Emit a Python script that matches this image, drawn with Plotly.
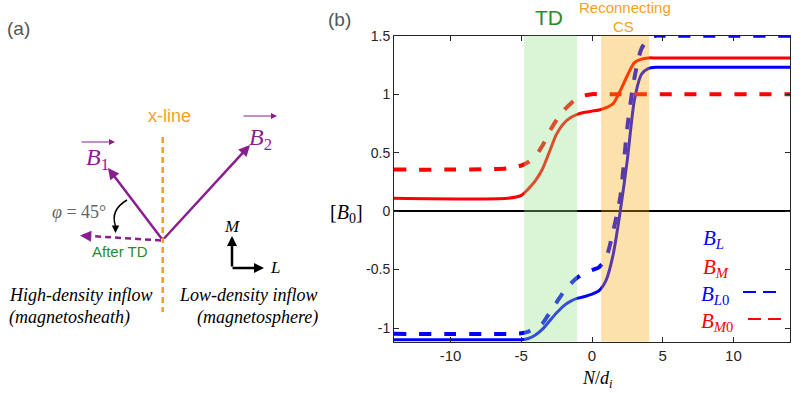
import plotly.graph_objects as go

# ---------------- data ----------------
N = [-14, -6, -5, -4.5, -4, -3.5, -3, -2.5, -2, -1.5, -1, -0.5, 0, 0.5,
     1, 1.5, 2, 2.5, 3, 3.5, 4, 4.5, 5, 6, 14]
BL = [-1.10, -1.10, -1.10, -1.09, -1.06, -1.01, -0.94, -0.87, -0.81, -0.77,
      -0.745, -0.73, -0.71, -0.68, -0.59, -0.37, 0.0, 0.44, 0.95, 1.17,
      1.22, 1.23, 1.23, 1.23, 1.23]
BM = [0.11, 0.11, 0.135, 0.19, 0.26, 0.36, 0.51, 0.66, 0.75, 0.80,
      0.83, 0.845, 0.855, 0.865, 0.885, 0.92, 1.03, 1.16, 1.27, 1.30,
      1.31, 1.31, 1.31, 1.31, 1.31]
BL0 = [-1.05, -1.05, -1.045, -1.03, -1.0, -0.96, -0.87, -0.78, -0.69, -0.62,
       -0.565, -0.53, -0.505, -0.48, -0.40, -0.17, 0.12, 0.72, 1.14, 1.39,
       1.47, 1.5, 1.5, 1.5, 1.5]
BM0 = [0.355, 0.365, 0.39, 0.42, 0.47, 0.56, 0.68, 0.78, 0.86, 0.92,
       0.97, 0.99, 1.0, 1.0, 1.0, 1.0, 1.0, 1.0, 1.0, 1.0,
       1.0, 1.0, 1.0, 1.0, 1.0]
TD_band = [-4.8, -1.05]
CS_band = [0.65, 4.05]
x_ticks = [-10, -5, 0, 5, 10]
y_ticks = [-1, -0.5, 0, 0.5, 1, 1.5]
y_ticktext = ["-1", "-0.5", "0", "0.5", "1", "1.5"]
x_ticktext = ["-10", "-5", "0", "5", "10"]

BLUE = "#0000ff"
RED = "#ff0000"
PURPLE = "#8b1e8f"
ORANGE = "#f7a01e"
GREEN_T = "#2a8a2a"
SANS = "Liberation Sans, Arial, sans-serif"
SERIF = "Liberation Serif, Times New Roman, serif"
W, H = 804, 393

fig = go.Figure()

fig.add_trace(go.Scatter(x=N, y=BL, mode="lines", line=dict(color=BLUE, width=3, shape="spline", smoothing=0.7)))
fig.add_trace(go.Scatter(x=N, y=BM, mode="lines", line=dict(color=RED, width=3, shape="spline", smoothing=0.7)))
fig.add_trace(go.Scatter(x=N, y=BL0, mode="lines", line=dict(color=BLUE, width=4, dash="12px,13px", shape="spline", smoothing=0.7)))
fig.add_trace(go.Scatter(x=N, y=BM0, mode="lines", line=dict(color=RED, width=4, dash="12px,13px", shape="spline", smoothing=0.7)))
# helper axis for the sketch panel (pixel-like coordinates)
fig.add_trace(go.Scatter(x=[], y=[], xaxis="x2", yaxis="y2"))

shapes = []
# shaded bands (drawn above lines with transparency, tinting them)
shapes.append(dict(type="rect", xref="x", yref="y domain", x0=TD_band[0], x1=TD_band[1], y0=0, y1=1,
                   fillcolor="rgb(147,226,138)", opacity=0.35, line=dict(width=0), layer="above"))
shapes.append(dict(type="rect", xref="x", yref="y domain", x0=CS_band[0], x1=CS_band[1], y0=0, y1=1,
                   fillcolor="rgb(249,169,12)", opacity=0.35, line=dict(width=0), layer="above"))

# legend dash samples (paper coords from pixels)
def px(x):
    return x / W
def py(y):
    return 1 - y / H

shapes.append(dict(type="line", xref="paper", yref="paper", x0=px(743), x1=px(777), y0=py(292), y1=py(292),
                   line=dict(color=BLUE, width=2, dash="13px,7px")))
shapes.append(dict(type="line", xref="paper", yref="paper", x0=px(748), x1=px(782), y0=py(319), y1=py(319),
                   line=dict(color=RED, width=2, dash="13px,7px")))

# ---- sketch panel (a), coordinates in x2/y2 (pixels) ----
shapes.append(dict(type="line", xref="x2", yref="y2", x0=162.7, x1=162.7, y0=137, y1=312,
                   line=dict(color=ORANGE, width=2.5, dash="6px,4px")))
shapes.append(dict(type="line", xref="x2", yref="y2", x0=161, y0=240.5, x1=90, y1=236,
                   line=dict(color=PURPLE, width=2.5, dash="6px,4px")))
shapes.append(dict(type="path", xref="x2", yref="y2", path="M 127,200 Q 110,210 115.5,226",
                   line=dict(color="black", width=1.5)))

annotations = []

def arrow(x0, y0, x1, y1, color, width, size=1.0, head=2):
    annotations.append(dict(x=x1, y=y1, ax=x0, ay=y0, xref="x2", yref="y2", axref="x2", ayref="y2",
                            text="", showarrow=True, arrowhead=head, arrowsize=size, arrowwidth=width,
                            arrowcolor=color, standoff=0, startstandoff=0))

arrow(162.7, 240, 108, 168, PURPLE, 2.5, 0.9)
arrow(162.7, 240, 250, 145, PURPLE, 2.5, 0.9)
arrow(92, 236.3, 80, 235.5, PURPLE, 2.5, 0.9)
arrow(115.5, 225, 115.5, 233, "black", 1.5, 1.0)
arrow(232, 268, 232, 236, "black", 2.5, 0.8)
arrow(231, 268, 264, 268, "black", 2.5, 0.8)
arrow(80, 142, 115, 142, PURPLE, 1.2, 1.0)
arrow(242, 116, 277, 116, PURPLE, 1.2, 1.0)

def txt(x, y, s, size, color, family=SANS, xanchor="center", yanchor="middle", ref="x2"):
    if ref == "x2":
        annotations.append(dict(x=x, y=y, xref="x2", yref="y2", text=s, showarrow=False,
                                font=dict(size=size, color=color, family=family),
                                xanchor=xanchor, yanchor=yanchor))
    else:
        annotations.append(dict(x=px(x), y=py(y), xref="paper", yref="paper", text=s, showarrow=False,
                                font=dict(size=size, color=color, family=family),
                                xanchor=xanchor, yanchor=yanchor))

txt(18, 28, "(a)", 19, "#555555")
txt(169, 116, "x-line", 18, ORANGE)
txt(97, 159, "<i>B</i><sub>1</sub>", 24, PURPLE, SERIF)
txt(260, 139, "<i>B</i><sub>2</sub>", 24, PURPLE, SERIF)
txt(79, 212, "<i>φ</i> = 45°", 18, "#666666", SERIF)
txt(119.5, 251, "After TD", 15, GREEN_T)
txt(232, 226, "<i>M</i>", 17, "black", SERIF)
txt(275, 267, "<i>L</i>", 17, "black", SERIF)
txt(7, 295, "<i>High-density inflow</i>", 18, "black", SERIF, xanchor="left")
txt(7, 317, "<i>(magnetosheath)</i>", 18, "black", SERIF, xanchor="left")
txt(320, 295, "<i>Low-density inflow</i>", 18, "black", SERIF, xanchor="right")
txt(320, 317, "<i>(magnetosphere)</i>", 18, "black", SERIF, xanchor="right")

# ---- panel (b) texts ----
txt(339.5, 19, "(b)", 19, "#555555", ref="paper")
txt(346, 213, "[<i>B</i><sub>0</sub>]", 20, "black", SERIF, ref="paper")
txt(597, 379, "<i>N</i>/<i>d<sub>i</sub></i>", 18, "black", SERIF, ref="paper")
txt(549, 18, "TD", 21, GREEN_T, ref="paper")
txt(624.5, 8, "Reconnecting", 15, ORANGE, ref="paper")
txt(623.5, 26, "CS", 15, ORANGE, ref="paper")
txt(701, 239, "<i>B<sub>L</sub></i>", 21, BLUE, SERIF, xanchor="left", ref="paper")
txt(701, 268, "<i>B<sub>M</sub></i>", 21, RED, SERIF, xanchor="left", ref="paper")
txt(699, 295, "<i>B<sub>L</sub></i><sub>0</sub>", 21, BLUE, SERIF, xanchor="left", ref="paper")
txt(699, 322, "<i>B<sub>M</sub></i><sub>0</sub>", 21, RED, SERIF, xanchor="left", ref="paper")

fig.update_layout(
    width=W, height=H, autosize=False, margin=dict(l=0, r=0, t=0, b=0, pad=0),
    paper_bgcolor="white", plot_bgcolor="white", showlegend=False,
    shapes=shapes, annotations=annotations,
    xaxis=dict(domain=[394 / W, 790 / W], range=[-14, 14], tickvals=x_ticks, ticktext=x_ticktext,
               ticks="inside", ticklen=5, tickcolor="#262626", showline=True, linecolor="#262626",
               linewidth=1, mirror="ticks", showgrid=False, zeroline=False, automargin=False,
               tickfont=dict(family=SANS, size=15, color="#262626")),
    yaxis=dict(domain=[1 - 341.7 / H, 1 - 35.7 / H], range=[-1.117, 1.5], tickvals=y_ticks,
               ticktext=y_ticktext, ticks="inside", ticklen=5, tickcolor="#262626", showline=True,
               linecolor="#262626", linewidth=1, mirror="ticks", showgrid=False, automargin=False,
               zeroline=True, zerolinecolor="black", zerolinewidth=1.5,
               tickfont=dict(family=SANS, size=14, color="#262626")),
    xaxis2=dict(domain=[0, 361.8 / W], range=[0, 361.8], visible=False, anchor="y2", fixedrange=True,
                automargin=False),
    yaxis2=dict(domain=[0, 1], range=[H, 0], visible=False, anchor="x2", fixedrange=True,
                automargin=False),
)

POST = ("document.documentElement.style.margin='0px';document.body.style.margin='0px';"
        "document.body.style.overflow='hidden';document.documentElement.style.overflow='hidden';"
        "var g=document.querySelector('.plotly-graph-div');"
        "g.style.position='fixed';g.style.top='0px';g.style.left='0px';")
fig.write_html("out.html", config={"displayModeBar": False, "responsive": False}, post_script=POST)
